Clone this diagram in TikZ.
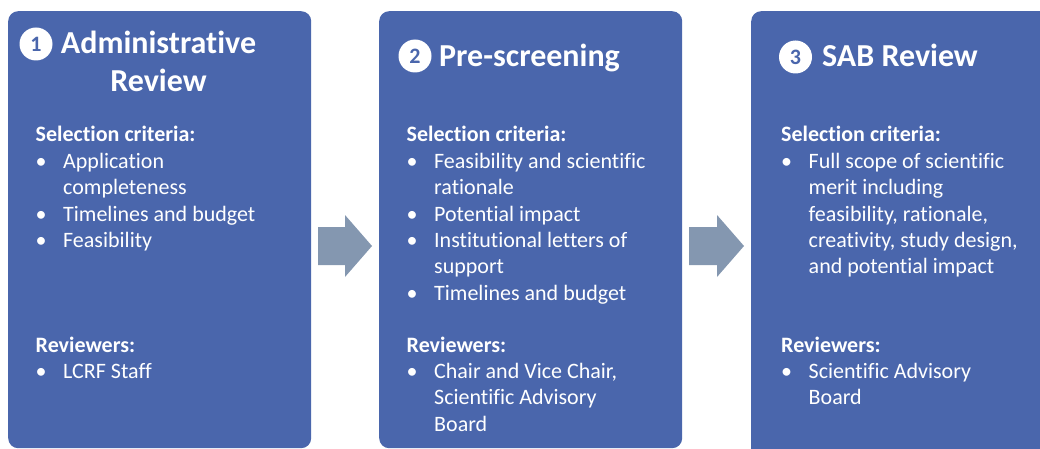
\documentclass[tikz,border=0pt]{standalone}
\usepackage{fontspec}
\setmainfont{Carlito}[Ligatures={NoCommon}]
\definecolor{boxblue}{HTML}{4A66AC}
\definecolor{arrowgray}{HTML}{8497B0}
\tikzset{
  stagebox/.style={fill=boxblue, rounded corners=10pt, inner sep=0pt, anchor=north west},
  numcirc/.style={circle, fill=white, text=boxblue, minimum size=33pt, inner sep=0pt, font=\fontsize{22}{22}\selectfont\bfseries},
  titletext/.style={text=white, inner sep=0pt, font=\fontsize{32}{38}\selectfont\bfseries},
  bodytext/.style={text=white, inner sep=0pt, anchor=base west, font=\fontsize{22}{26.4}\selectfont},
  blockarrow/.style={fill=arrowgray}
}
\begin{document}
\begin{tikzpicture}[x=1pt,y=-1pt]
\useasboundingbox (0,0) rectangle (1040,449);
\clip (0,0) rectangle (1040,449);

% stage boxes
\node[stagebox, minimum width=303pt, minimum height=437pt] (box1) at (8,11) {};
\node[stagebox, minimum width=303pt, minimum height=437pt] (box2) at (379,11) {};
\node[stagebox, minimum width=320pt, minimum height=460pt] (box3) at (751,11) {};

% block arrows
\fill[blockarrow] (318,227) -- (345,227) -- (345,215) -- (372,246) -- (345,277) -- (345,265) -- (318,265) -- cycle;
\fill[blockarrow] (689,227) -- (717,227) -- (717,215) -- (744,246) -- (717,277) -- (717,265) -- (689,265) -- cycle;

% titles
\node[numcirc] (n1) at (36,44) {1};
\node[titletext, anchor=base] (t1a) at (158.5,54) {Administrative};
\node[titletext, anchor=base] (t1b) at (158.5,92) {Review};

\node[numcirc] (n2) at (415,56) {2};
\node[titletext, anchor=base west] (t2) at (439,67) {Pre-screening};

\node[numcirc] (n3) at (795.5,57) {3};
\node[titletext, anchor=base west] (t3) at (822,67) {SAB Review};

% box 1 text
\node[bodytext] (c1) at (35.5,142) {\begin{tabular}[t]{@{}p{27.5pt}@{}l@{}}
\multicolumn{2}{@{}l@{}}{\bfseries Selection criteria:}\\
\textbullet & Application\\
 & completeness\\
\textbullet & Timelines and budget\\
\textbullet & Feasibility
\end{tabular}};
\node[bodytext] (r1) at (35.5,352) {\begin{tabular}[t]{@{}p{27.5pt}@{}l@{}}
\multicolumn{2}{@{}l@{}}{\bfseries Reviewers:}\\
\textbullet & LCRF Staff
\end{tabular}};

% box 2 text
\node[bodytext] (c2) at (406.5,142) {\begin{tabular}[t]{@{}p{27.5pt}@{}l@{}}
\multicolumn{2}{@{}l@{}}{\bfseries Selection criteria:}\\
\textbullet & Feasibility and scientific\\
 & rationale\\
\textbullet & Potential impact\\
\textbullet & Institutional letters of\\
 & support\\
\textbullet & Timelines and budget
\end{tabular}};
\node[bodytext] (r2) at (406.5,352) {\begin{tabular}[t]{@{}p{27.5pt}@{}l@{}}
\multicolumn{2}{@{}l@{}}{\bfseries Reviewers:}\\
\textbullet & Chair and Vice Chair,\\
 & Scientific Advisory\\
 & Board
\end{tabular}};

% box 3 text
\node[bodytext] (c3) at (781,142) {\begin{tabular}[t]{@{}p{27.5pt}@{}l@{}}
\multicolumn{2}{@{}l@{}}{\bfseries Selection criteria:}\\
\textbullet & Full scope of scientific\\
 & merit including\\
 & feasibility, rationale,\\
 & creativity, study design,\\
 & and potential impact
\end{tabular}};
\node[bodytext] (r3) at (781,352) {\begin{tabular}[t]{@{}p{27.5pt}@{}l@{}}
\multicolumn{2}{@{}l@{}}{\bfseries Reviewers:}\\
\textbullet & Scientific Advisory\\
 & Board
\end{tabular}};
\end{tikzpicture}
\end{document}
